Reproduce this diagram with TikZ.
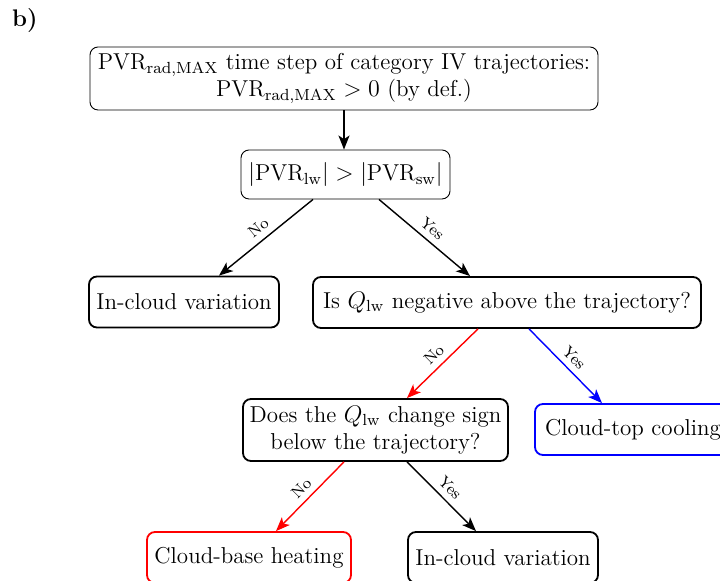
\documentclass[tikz,border=0pt]{standalone}
\usepackage{fontspec}
\usetikzlibrary{arrows.meta}

\tikzset{
  box/.style={draw, rounded corners=4pt, line width=0.9pt, align=center,
    inner sep=2pt, font=\fontsize{11.5}{13.5}\selectfont},
  thinbox/.style={box, line width=0.45pt},
  arr/.style={-{Stealth[length=7pt,width=5.5pt,inset=1.8pt]}, line width=0.7pt},
  lbl/.style={midway, sloped, above, font=\footnotesize, inner sep=3pt}
}

\begin{document}
\begin{tikzpicture}[x=0.5pt, y=-0.5pt]
      \useasboundingbox (0,0) rectangle (720,581);
      \node[anchor=west, font=\fontsize{12}{14}\selectfont\bfseries] (tag) at (5,21) {b)};
      \draw
        (344,78.5) node[thinbox, minimum width=254pt, minimum height=31.5pt] (top)
          {$\mathrm{PVR}_{\mathrm{rad,MAX}}$ time step of category IV trajectories:\\
           $\mathrm{PVR}_{\mathrm{rad,MAX}} > 0$ (by def.)}
        (345.5,174.5) node[thinbox, minimum width=104.5pt, minimum height=24.5pt] (cmp)
          {$|\mathrm{PVR}_{\mathrm{lw}}| > |\mathrm{PVR}_{\mathrm{sw}}|$}
        (184,302) node[box, minimum width=95pt, minimum height=25.5pt] (incloud1)
          {In-cloud variation}
        (507,302.5) node[box, minimum width=194pt, minimum height=25.5pt] (qneg)
          {Is $Q_{\mathrm{lw}}$ negative above the trajectory?}
        (375.5,430) node[box, minimum width=132.5pt, minimum height=31pt] (sign)
          {Does the $Q_{\mathrm{lw}}$ change sign\\ below the trajectory?}
        (633,429.5) node[box, draw=blue, minimum width=98pt, minimum height=25.5pt] (cooling)
          {Cloud-top cooling}
        (249,557.5) node[box, draw=red, minimum width=102pt, minimum height=25.5pt] (heating)
          {Cloud-base heating}
        (503,557.5) node[box, minimum width=95pt, minimum height=25.5pt] (incloud2)
          {In-cloud variation};
      \begin{scope}[arr]
        \draw (top.south) to (top.south |- cmp.north);
        \draw ([xshift=-16.25pt]cmp.south) to node[lbl] {No} ([xshift=17.5pt]incloud1.north);
        \draw ([xshift=16.75pt]cmp.south) to node[lbl] {Yes} ([xshift=-18.5pt]qneg.north);
        \draw[red] ([xshift=-14.5pt]qneg.south) to node[lbl, black] {No} ([xshift=15.75pt]sign.north);
        \draw[blue] ([xshift=11pt]qneg.south) to node[lbl, black] {Yes} ([xshift=-15.5pt]cooling.north);
        \draw[red] ([xshift=-15.75pt]sign.south) to node[lbl, black] {No} ([xshift=13.5pt]heating.north);
        \draw ([xshift=15.75pt]sign.south) to node[lbl] {Yes} ([xshift=-13.5pt]incloud2.north);
      \end{scope}
    \end{tikzpicture}
\end{document}
